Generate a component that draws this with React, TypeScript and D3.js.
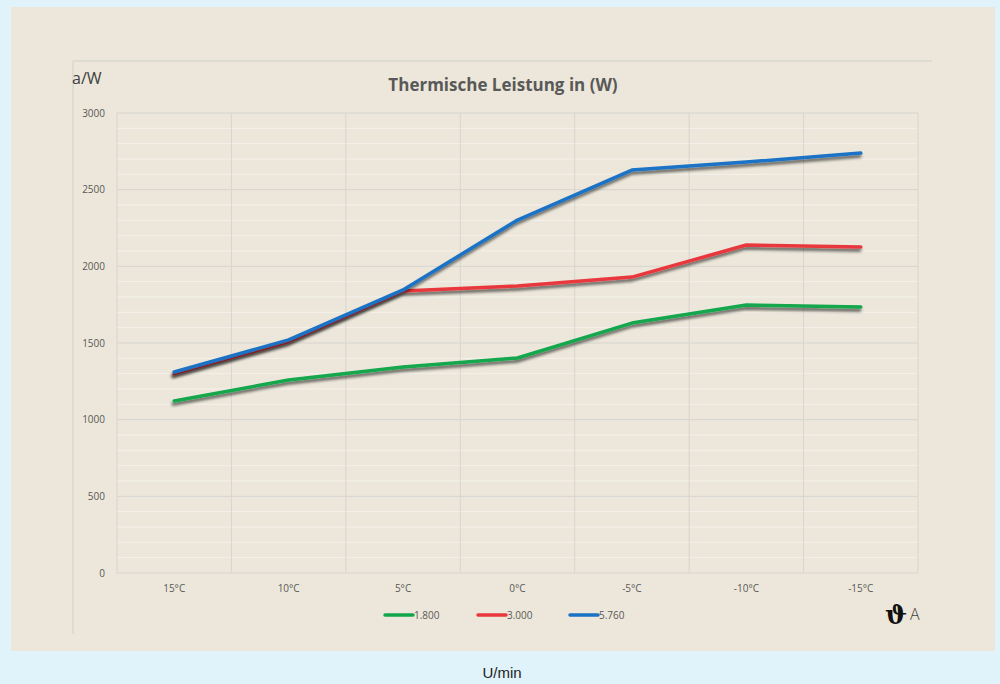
import React from "react";
import * as d3 from "d3";

const categories = ["15°C", "10°C", "5°C", "0°C", "-5°C", "-10°C", "-15°C"];
const seriesNames = ["1.800", "3.000", "5.760"];
const seriesColors = ["#12a64c", "#e8383d", "#1a72c4"];
const green1800 = [1122, 1259, 1343, 1402, 1630, 1748, 1735];
const red3000 = [1300, 1510, 1839, 1872, 1930, 2139, 2126];
const blue5760 = [1311, 1520, 1846, 2302, 2628, 2680, 2739];
const yTicks = [0, 500, 1000, 1500, 2000, 2500, 3000];
const yMinorTicks = d3.range(0, 3001, 100);

const W = 1000;
const H = 684;
const plot = { left: 117, right: 918, top: 113, bottom: 573 };

export default function App() {
  const series = [green1800, red3000, blue5760];
  const x = d3
    .scaleBand<string>()
    .domain(categories)
    .range([plot.left, plot.right])
    .paddingInner(0)
    .paddingOuter(0);
  const y = d3.scaleLinear().domain([0, 3000]).range([plot.bottom, plot.top]);
  const cx = (c: string) => (x(c) as number) + x.bandwidth() / 2;
  const line = d3
    .line<number>()
    .x((_, i) => cx(categories[i]))
    .y((d) => y(d))
    .curve(d3.curveLinear);

  const font = "'Open Sans', 'Noto Sans', sans-serif";
  const legendX = [385, 478, 570];

  return (
    <svg
      width={W}
      height={H}
      viewBox={`0 0 ${W} ${H}`}
      style={{ position: "absolute", left: 0, top: 0, display: "block" }}
    >
      <defs>
        <filter id="shadow" x="-10%" y="-20%" width="120%" height="140%">
          <feGaussianBlur in="SourceAlpha" stdDeviation="1.4" />
          <feOffset dx="-1.5" dy="2.5" result="blur" />
          <feComponentTransfer>
            <feFuncA type="linear" slope="0.6" />
          </feComponentTransfer>
          <feMerge>
            <feMergeNode />
            <feMergeNode in="SourceGraphic" />
          </feMerge>
        </filter>
      </defs>
      <rect x={0} y={0} width={W} height={H} fill="#e0f2fa" />
      <rect x={11} y={7} width={984} height={644} fill="#ece7da" />
      <line x1={73} y1={61} x2={932} y2={61} stroke="#cfd0cc" strokeWidth={1} />
      <line x1={73} y1={61} x2={73} y2={634} stroke="#cfd0cc" strokeWidth={1} />

      {yMinorTicks
        .filter((t) => t % 500 !== 0)
        .map((t) => (
          <line
            key={"m" + t}
            x1={plot.left}
            x2={plot.right}
            y1={y(t)}
            y2={y(t)}
            stroke="#f4f2ec"
            strokeWidth={1}
          />
        ))}
      {yTicks.map((t) => (
        <line
          key={"g" + t}
          x1={plot.left}
          x2={plot.right}
          y1={y(t)}
          y2={y(t)}
          stroke="#d6d5d0"
          strokeWidth={1}
        />
      ))}
      {categories.map((c) => (
        <line
          key={"v" + c}
          x1={x(c) as number}
          x2={x(c) as number}
          y1={plot.top}
          y2={plot.bottom}
          stroke="#d6d5d0"
          strokeWidth={1}
        />
      ))}
      <line
        x1={plot.right}
        x2={plot.right}
        y1={plot.top}
        y2={plot.bottom}
        stroke="#d6d5d0"
        strokeWidth={1}
      />

      {yTicks.map((t) => (
        <text
          key={"yt" + t}
          x={105}
          y={y(t)}
          dy="0.35em"
          textAnchor="end"
          fontFamily={font}
          fontSize={10}
          fill="#595959"
        >
          {t}
        </text>
      ))}
      {categories.map((c) => (
        <text
          key={"xt" + c}
          x={cx(c)}
          y={592}
          textAnchor="middle"
          fontFamily={font}
          fontSize={10}
          fill="#595959"
        >
          {c}
        </text>
      ))}

      {series.map((s, i) => (
        <path
          key={"s" + i}
          d={line(s) as string}
          fill="none"
          stroke={seriesColors[i]}
          strokeWidth={3.5}
          strokeLinecap="round"
          strokeLinejoin="round"
          filter="url(#shadow)"
        />
      ))}

      <text
        x={503}
        y={91}
        textAnchor="middle"
        fontFamily={font}
        fontWeight="bold"
        fontSize={17}
        fill="#595959"
      >
        Thermische Leistung in (W)
      </text>
      <text x={72} y={84} fontFamily={font} fontSize={16} fill="#404040">
        a/W
      </text>

      {seriesNames.map((n, i) => (
        <g key={"l" + n}>
          <line
            x1={legendX[i]}
            x2={legendX[i] + 28}
            y1={615}
            y2={615}
            stroke={seriesColors[i]}
            strokeWidth={3.5}
            strokeLinecap="round"
          />
          <text
            x={legendX[i] + 29}
            y={615}
            dy="0.35em"
            fontFamily={font}
            fontSize={10}
            fill="#595959"
          >
            {n}
          </text>
        </g>
      ))}

      <text x={885} y={624} fontFamily="'DejaVu Serif', serif" fontWeight="bold" fontSize={26} fill="#111">
        ϑ
      </text>
      <text x={910} y={620} fontFamily={font} fontSize={16} fontWeight={300} fill="#444">
        A
      </text>

      <text
        x={502}
        y={678}
        textAnchor="middle"
        fontFamily="'Liberation Sans', Arial, sans-serif"
        fontSize={15}
        fill="#222"
      >
        U/min
      </text>
    </svg>
  );
}
